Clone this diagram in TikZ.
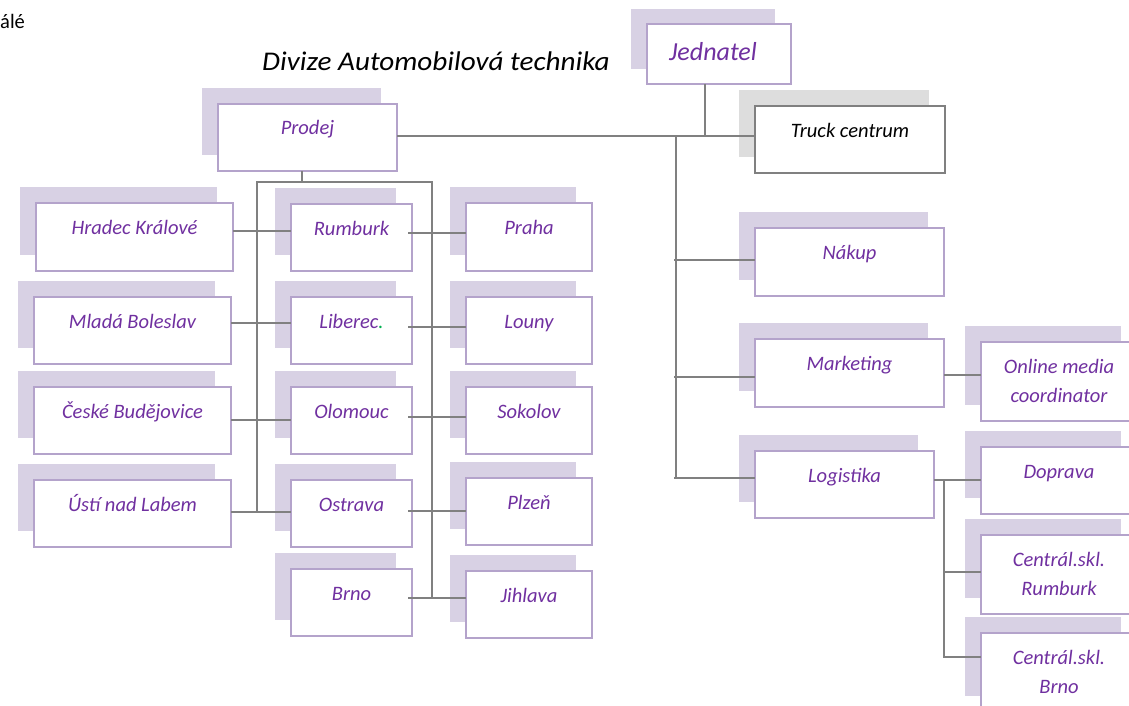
\documentclass[tikz,border=0pt]{standalone}
\usepackage{fontspec}
\setmainfont{Carlito}
\newfontfamily\titlefont[FakeStretch=1.08]{Carlito}
\definecolor{ptext}{HTML}{7030A0}
\definecolor{pborder}{HTML}{B4A3CB}
\definecolor{pshadow}{HTML}{D8D1E4}
\definecolor{gshadow}{HTML}{DDDDDD}
\definecolor{gborder}{HTML}{808080}
\definecolor{lgray}{HTML}{808080}
\definecolor{dotgreen}{HTML}{00B050}
\newcommand\orgbox[6]{%
  \fill[pshadow] ({#2-16},{#3-16}) rectangle ({#4-16},{#5-16});
  \node[frontbox, minimum width={(#4-#2)*1pt}, minimum height={(#5-#3)*1pt}] (#1) at (#2,#3) {};
  \node[lbl] (#1-t) at ({(#2+#4)/2},{#3+31}) {#6};}
\newcommand\orgboxii[7]{%
  \orgbox{#1}{#2}{#3}{#4}{#5}{#6}%
  \node[lbl] (#1-u) at ({(#2+#4)/2},{#3+60}) {#7};}
\begin{document}
\begin{tikzpicture}[x=1pt,y=-1pt,
  frontbox/.style={draw=pborder, line width=1.6pt, fill=white, inner sep=0pt, outer sep=0pt, anchor=north west},
  lbl/.style={text=ptext, font=\fontsize{20.5}{24}\selectfont\itshape, inner sep=0pt, anchor=base},
  conn/.style={draw=lgray, line width=1.8pt}]
\useasboundingbox (0,0) rectangle (1129,706);
\fill[white] (0,0) rectangle (1129,706);

% loose texts
\node[font=\fontsize{20.5}{24}\selectfont, anchor=base west, inner sep=0pt] (cut) at (0,29) {álé};
\node[font=\titlefont\fontsize{27}{30}\selectfont\itshape, anchor=base, inner sep=0pt] (title) at (436,71) {Divize Automobilová technika};

% top
\fill[pshadow] (631,9) rectangle (775,69);
\node[frontbox, minimum width=144pt, minimum height=60pt] (jed) at (647,24) {};
\node[lbl, font=\fontsize{26}{30}\selectfont\itshape] (jed-t) at (713,61) {Jednatel};

\fill[gshadow] (739,90) rectangle (929,157);
\node[frontbox, draw=gborder, minimum width=190pt, minimum height=67pt] (truck) at (755,106) {};
\node[lbl, text=black] (truck-t) at (850,137) {Truck centrum};

\orgbox{prodej}{218}{104}{397}{171}{Prodej}

% left column
\orgbox{hk}{36}{203}{233}{271}{Hradec Králové}
\orgbox{mb}{34}{297}{231}{364}{Mladá Boleslav}
\orgbox{cb}{34}{387}{231}{454}{České Budějovice}
\orgbox{ul}{34}{480}{231}{547}{Ústí nad Labem}

% middle column
\orgbox{rum}{291}{204}{412}{271}{Rumburk}
\orgbox{lib}{291}{297}{412}{364}{Liberec\textcolor{dotgreen}{.}}
\orgbox{olo}{291}{387}{412}{454}{Olomouc}
\orgbox{ost}{291}{480}{412}{547}{Ostrava}
\orgbox{brno}{291}{569}{412}{636}{Brno}

% right column
\orgbox{pra}{466}{203}{592}{271}{Praha}
\orgbox{lou}{466}{297}{592}{364}{Louny}
\orgbox{sok}{466}{387}{592}{454}{Sokolov}
\orgbox{plz}{466}{478}{592}{545}{Plzeň}
\orgbox{jih}{466}{571}{592}{638}{Jihlava}

% right side
\orgbox{nak}{755}{228}{944}{296}{Nákup}
\orgbox{mkt}{755}{339}{944}{407}{Marketing}
\orgbox{log}{755}{451}{934}{518}{Logistika}
\orgboxii{omc}{981}{342}{1137}{421}{Online media}{coordinator}
\orgbox{dop}{981}{447}{1137}{514}{Doprava}
\orgboxii{csr}{981}{535}{1137}{614}{Centrál.skl.}{Rumburk}
\orgboxii{csb}{981}{633}{1137}{712}{Centrál.skl.}{Brno}

% connectors: top
\coordinate (jt) at (705,136);
\coordinate (trunk) at (676,136);
\draw[conn] (jed.south -| jt) -- (jt);
\draw[conn] (prodej.east |- jt) -- (truck.west |- jt);
\draw[conn] (trunk) -- (676,478);
\draw[conn] (674,260) -- (nak.west |- 0,260);
\draw[conn] (674,377) -- (mkt.west |- 0,377);
\draw[conn] (674,478) -- (log.west |- 0,478);
\draw[conn] (mkt.east |- 0,375) -- (omc.west |- 0,375);
\coordinate (lb) at (944,480);
\draw[conn] (log.east |- lb) -- (lb) -- (944,657) -- (csb.west |- 0,657);
\draw[conn] (lb) -- (dop.west |- lb);
\draw[conn] (944,572) -- (csr.west |- 0,572);

% connectors: Prodej bus
\coordinate (pb) at (302,182);
\draw[conn] (prodej.south -| pb) -- (pb);
\draw[conn] (257,512) -- (257,182) -- (432,182) -- (432,598);
\draw[conn] (hk.east |- 0,231) -- (rum.west |- 0,231);
\draw[conn] (mb.east |- 0,323) -- (lib.west |- 0,323);
\draw[conn] (cb.east |- 0,420) -- (olo.west |- 0,420);
\draw[conn] (ul.east |- 0,512) -- (ost.west |- 0,512);
\draw[conn] ([xshift=-4pt]rum.east |- 0,233) -- (pra.west |- 0,233);
\draw[conn] ([xshift=-4pt]lib.east |- 0,327) -- (lou.west |- 0,327);
\draw[conn] ([xshift=-4pt]olo.east |- 0,417) -- (sok.west |- 0,417);
\draw[conn] ([xshift=-4pt]ost.east |- 0,511) -- (plz.west |- 0,511);
\draw[conn] ([xshift=-4pt]brno.east |- 0,598) -- (jih.west |- 0,598);
\end{tikzpicture}
\end{document}
